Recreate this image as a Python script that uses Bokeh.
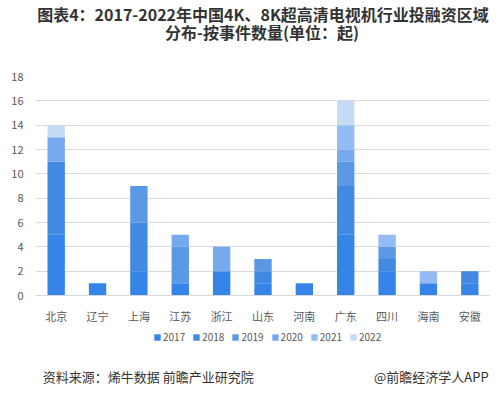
from bokeh.plotting import figure
from bokeh.layouts import column
from bokeh.models import Legend, LegendItem, Label, FixedTicker, Range1d, ColumnDataSource
from bokeh.embed import file_html
from bokeh.resources import INLINE

regions = ["北京", "辽宁", "上海", "江苏", "浙江", "山东", "河南", "广东", "四川", "海南", "安徽"]
years = ["2017", "2018", "2019", "2020", "2021", "2022"]
v2017 = [5, 1, 2, 1, 2, 1, 1, 5, 2, 1, 1]
v2018 = [6, 0, 4, 0, 0, 1, 0, 4, 1, 0, 1]
v2019 = [0, 0, 3, 3, 0, 1, 0, 2, 1, 0, 0]
v2020 = [2, 0, 0, 1, 2, 0, 0, 1, 0, 0, 0]
v2021 = [0, 0, 0, 0, 0, 0, 0, 2, 1, 1, 0]
v2022 = [1, 0, 0, 0, 0, 0, 0, 2, 0, 0, 0]
y_ticks = [0, 2, 4, 6, 8, 10, 12, 14, 16, 18]
title1 = "图表4：2017-2022年中国4K、8K超高清电视机行业投融资区域"
title2 = "分布-按事件数量(单位：起)"
source_text = "资料来源：烯牛数据 前瞻产业研究院"
brand_text = "@前瞻经济学人APP"

colors = ["#3585e8", "#4189e2", "#5b98e6", "#76a9ee", "#92bcf3", "#c6dbf6"]
FONT = "Noto Sans CJK SC"
W = 500
TOP_H, MAIN_H, LEG_H, BOT_H = 68, 258, 22, 50


def strip(h, x_range=None, y_range=None):
    f = figure(width=W, height=h,
               x_range=x_range if x_range is not None else Range1d(0, W),
               y_range=y_range if y_range is not None else Range1d(0, h),
               output_backend="svg", toolbar_location=None,
               x_axis_location=None, y_axis_location=None,
               min_border_left=0, min_border_right=0, min_border_top=0, min_border_bottom=0)
    f.grid.visible = False
    f.outline_line_color = None
    return f


src = ColumnDataSource(dict(region=regions, y2017=v2017, y2018=v2018, y2019=v2019,
                            y2020=v2020, y2021=v2021, y2022=v2022))
stack_cols = ["y" + y for y in years]

# ---- title strip
top = strip(TOP_H)
top.add_layout(Label(x=250, y=TOP_H - 13, text=title1, text_font=FONT, text_font_size="16px",
                     text_font_style="bold", text_color="#333333",
                     text_align="center", text_baseline="middle"))
top.add_layout(Label(x=249, y=TOP_H - 31, text=title2, text_font=FONT, text_font_size="16px",
                     text_font_style="bold", text_color="#333333",
                     text_align="center", text_baseline="middle"))

# ---- main chart
p = figure(x_range=regions, y_range=Range1d(0, 18), width=W, height=MAIN_H,
           output_backend="svg", toolbar_location=None,
           min_border_left=35, min_border_right=10, min_border_top=8, min_border_bottom=30)

p.vbar_stack(stack_cols, x="region", width=0.42, color=colors, line_color=None, source=src)

p.outline_line_color = None
p.background_fill_color = "white"
p.xgrid.grid_line_color = None
p.ygrid.grid_line_color = "#d9d9d9"
p.ygrid.grid_line_width = 1
p.yaxis.ticker = FixedTicker(ticks=y_ticks)
p.yaxis.axis_line_color = None
p.yaxis.major_tick_line_color = None
p.yaxis.minor_tick_line_color = None
p.yaxis.major_label_text_font = FONT
p.yaxis.major_label_text_font_size = "11px"
p.yaxis.major_label_text_color = "#595959"
p.yaxis.major_label_standoff = 6
p.xaxis.axis_line_color = "#d9d9d9"
p.xaxis.major_tick_line_color = None
p.xaxis.minor_tick_line_color = None
p.xaxis.major_label_text_font = FONT
p.xaxis.major_label_text_font_size = "11px"
p.xaxis.major_label_text_color = "#595959"
p.xaxis.major_label_standoff = 6

# ---- legend strip (same series, bars outside the visible range; only the legend shows)
leg = strip(LEG_H, x_range=regions, y_range=Range1d(1000, 1001))
leg_renderers = leg.vbar_stack(stack_cols, x="region", width=0.42, color=colors,
                               line_color=None, source=src)
legend = Legend(items=[LegendItem(label=y, renderers=[r]) for y, r in zip(years, leg_renderers)],
                orientation="horizontal", location=(118, 4))
legend.glyph_width = 8
legend.glyph_height = 8
legend.label_text_font = FONT
legend.label_text_font_size = "10px"
legend.label_text_color = "#595959"
legend.label_standoff = 2
legend.spacing = 7
legend.padding = 2
legend.margin = 0
legend.border_line_color = None
legend.background_fill_alpha = 0
leg.add_layout(legend)

# ---- source strip
bot = strip(BOT_H)
bot.add_layout(Label(x=8, y=BOT_H - 28, text=source_text, text_font=FONT, text_font_size="13px",
                     text_color="#333333", text_baseline="middle"))
bot.add_layout(Label(x=W - 2, y=BOT_H - 28, text=brand_text, text_font=FONT, text_font_size="13px",
                     text_color="#333333", text_align="right", text_baseline="middle"))

layout = column(top, p, leg, bot, spacing=0)
open("out.html", "w").write(file_html(layout, INLINE))
